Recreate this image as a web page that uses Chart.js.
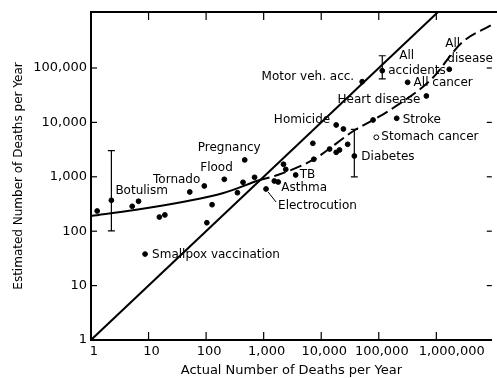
<!DOCTYPE html>
<html>
<head>
<meta charset="utf-8">
<script src="https://cdn.jsdelivr.net/npm/chart.js@4.4.0/dist/chart.umd.min.js"></script>
<style>
    html, body { margin: 0; padding: 0; background: #fff; overflow: hidden; }
    canvas { display: block; }
</style>
</head>
<body>
<canvas id="riskChart" width="497" height="378"></canvas>
<script>
// Actual vs. estimated deaths per year
const causeNames = [
    '', 'Botulism', '', '', 'Smallpox vaccination', '', '', '', 'Tornado', '',
    '', 'Flood', '', '', 'Pregnancy', '', 'Electrocution', 'Asthma', '', '',
    '', 'TB', '', '', '', '', '', '', 'Homicide', '',
    'Diabetes', 'Motor veh. acc.', 'All accidents', '', 'Stomach cancer', 'Stroke', 'All cancer', 'Heart disease', 'All disease'
];
const actualDeaths = [
    1.28, 2.26, 5.2, 6.7, 8.7, 15.4, 19.2, 52, 93, 103,
    127, 207, 350, 438, 469, 695, 1100, 1530, 1790, 2210,
    2420, 3600, 7150, 7430, 14000, 18200, 20800, 28800, 18200, 24300,
    37600, 51500, 115000, 79600, 90600, 205000, 317000, 671000, 1680000
];
const estimatedDeaths = [
    235, 370, 287, 355, 38, 182, 199, 526, 678, 143,
    307, 900, 510, 793, 2040, 980, 597, 837, 802, 1700,
    1370, 1080, 4130, 2100, 3240, 2820, 3110, 3960, 8960, 7560,
    2410, 56000, 89200, 11070, 5320, 11900, 54600, 30600, 94700
];

// Error bars (low / high estimate)
const errorCauses = ['Botulism', 'Diabetes', 'All accidents'];
const errorLow = [101, 1000, 63000];
const errorHigh = [3020, 7440, 168000];

// Fitted curve (solid part first, then dashed)
const curveX = [1, 5.7, 41, 200, 794, 1750, 7400, 38500, 79000, 175000, 830000, 2770000, 9100000];
const curveY = [190, 246, 349, 503, 855, 1080, 2090, 7240, 11000, 18200, 63000, 293000, 620000];
const curveSolidEnd = 4;

// Perfect-agreement line (estimate = actual)
const diagonalX = [1, 1070000];
const diagonalY = [1, 1070000];

// Axis ticks
const xTickValues = [1, 10, 100, 1000, 10000, 100000, 1000000];
const yTickValues = [1, 10, 100, 1000, 10000, 100000];

// Where each label sits relative to its dot (pixels)
const labelLayout = [
    { cause: 'Botulism', text: 'Botulism', dx: 4, dy: -9, align: 'left' },
    { cause: 'Smallpox vaccination', text: 'Smallpox vaccination', dx: 7, dy: 1, align: 'left' },
    { cause: 'Tornado', text: 'Tornado', dx: -4, dy: -6, align: 'right' },
    { cause: 'Flood', text: 'Flood', dx: -24, dy: -11, align: 'left' },
    { cause: 'Pregnancy', text: 'Pregnancy', dx: -47, dy: -12, align: 'left' },
    { cause: 'Electrocution', text: 'Electrocution', dx: 12, dy: 17, align: 'left', leader: [2, 3, 10, 13] },
    { cause: 'Asthma', text: 'Asthma', dx: 7, dy: 7, align: 'left' },
    { cause: 'TB', text: 'TB', dx: 4, dy: 0, align: 'left' },
    { cause: 'Homicide', text: 'Homicide', dx: -6, dy: -5, align: 'right' },
    { cause: 'Motor veh. acc.', text: 'Motor veh. acc.', dx: -8, dy: -5, align: 'right' },
    { cause: 'All accidents', text: 'All', dx: 17, dy: -15, align: 'left' },
    { cause: 'All accidents', text: 'accidents', dx: 6, dy: 0, align: 'left' },
    { cause: 'All disease', text: 'All', dx: -4, dy: -25, align: 'left' },
    { cause: 'All disease', text: 'disease', dx: -2, dy: -10, align: 'left' },
    { cause: 'All cancer', text: 'All cancer', dx: 6, dy: 1, align: 'left' },
    { cause: 'Heart disease', text: 'Heart disease', dx: -6, dy: 4, align: 'right' },
    { cause: 'Stroke', text: 'Stroke', dx: 6, dy: 2, align: 'left' },
    { cause: 'Stomach cancer', text: 'Stomach cancer', dx: 5, dy: 0, align: 'left' },
    { cause: 'Diabetes', text: 'Diabetes', dx: 7, dy: 1, align: 'left' }
];

function toPoints(xs, ys) {
    return xs.map((x, i) => ({ x: x, y: ys[i] }));
}

function formatTick(value) {
    const label = Number(value).toLocaleString('en-US');
    // last label sits right of its tick in the original
    return value === 1000000 ? '\u2007\u2007\u2007' + label : label;
}

// Frame ticks, top border and point labels
const frameAndLabels = {
    id: 'frameAndLabels',
    afterDatasetsDraw(chart) {
        const ctx = chart.ctx;
        const area = chart.chartArea;
        const xs = chart.scales.x;
        const ys = chart.scales.y;

        const line = (x1, y1, x2, y2) => {
            ctx.beginPath();
            ctx.moveTo(x1, y1);
            ctx.lineTo(x2, y2);
            ctx.stroke();
        };

        ctx.save();
        ctx.strokeStyle = '#000';
        ctx.lineWidth = 2;
        line(area.left - 1, area.top, chart.width, area.top);

        ctx.lineWidth = 1.2;
        xTickValues.slice(1).forEach(v => {
            const px = xs.getPixelForValue(v);
            line(px, area.bottom, px, area.bottom - 8);
            line(px, area.top, px, area.top + 8);
        });
        yTickValues.slice(1).forEach(v => {
            const py = ys.getPixelForValue(v);
            line(area.left, py, area.left + 6, py);
            line(area.right, py, area.right - 5, py);
        });

        ctx.fillStyle = '#000';
        ctx.font = '12px "DejaVu Sans", sans-serif';
        ctx.textBaseline = 'middle';
        labelLayout.forEach(lbl => {
            const i = causeNames.indexOf(lbl.cause);
            const px = xs.getPixelForValue(actualDeaths[i]);
            const py = ys.getPixelForValue(estimatedDeaths[i]);
            ctx.textAlign = lbl.align;
            ctx.fillText(lbl.text, px + lbl.dx, py + lbl.dy);
            if (lbl.leader) {
                ctx.lineWidth = 1;
                line(px + lbl.leader[0], py + lbl.leader[1], px + lbl.leader[2], py + lbl.leader[3]);
            }
        });
        ctx.restore();
    }
};

Chart.defaults.font.family = '"DejaVu Sans", sans-serif';
Chart.defaults.color = '#000';

const errorBarSets = errorCauses.map((cause, k) => {
    const xv = actualDeaths[causeNames.indexOf(cause)];
    return {
        data: [{ x: xv, y: errorLow[k] }, { x: xv, y: errorHigh[k] }],
        showLine: true,
        borderColor: '#000',
        borderWidth: 1.2,
        pointStyle: 'line',
        pointRadius: 3.5,
        pointBorderWidth: 1.2,
        pointBorderColor: '#000'
    };
});

new Chart(document.getElementById('riskChart'), {
    type: 'scatter',
    data: {
        datasets: [
            {
                data: toPoints(actualDeaths, estimatedDeaths),
                pointRadius: 2.4,
                pointBorderWidth: 1,
                pointBorderColor: '#000',
                pointBackgroundColor: ctx => causeNames[ctx.dataIndex] === 'Stomach cancer' ? '#fff' : '#000'
            },
            ...errorBarSets,
            {
                data: toPoints(curveX.slice(0, curveSolidEnd + 1), curveY.slice(0, curveSolidEnd + 1)),
                showLine: true,
                borderColor: '#000',
                borderWidth: 2,
                pointRadius: 0,
                cubicInterpolationMode: 'monotone'
            },
            {
                data: toPoints(curveX.slice(curveSolidEnd), curveY.slice(curveSolidEnd)),
                showLine: true,
                borderColor: '#000',
                borderWidth: 2,
                borderDash: [12, 5],
                pointRadius: 0,
                cubicInterpolationMode: 'monotone'
            },
            {
                data: toPoints(diagonalX, diagonalY),
                showLine: true,
                borderColor: '#000',
                borderWidth: 2,
                pointRadius: 0
            }
        ]
    },
    options: {
        responsive: false,
        animation: false,
        devicePixelRatio: 1,
        layout: { padding: { top: 12, right: 0, bottom: 0, left: 0 } },
        plugins: {
            legend: { display: false },
            tooltip: { enabled: false }
        },
        scales: {
            x: {
                type: 'logarithmic',
                position: 'bottom',
                min: 1,
                max: 9200000,
                grid: { drawOnChartArea: false, drawTicks: false },
                border: { display: true, color: '#000', width: 2 },
                afterBuildTicks: scale => { scale.ticks = xTickValues.map(v => ({ value: v })); },
                afterFit: scale => { scale.height = 38; },
                ticks: {
                    autoSkip: false,
                    maxRotation: 0,
                    padding: 4,
                    labelOffset: 3,
                    font: { size: 13 },
                    color: '#000',
                    callback: formatTick
                },
                title: {
                    display: true,
                    text: 'Actual Number of Deaths per Year',
                    font: { size: 13 },
                    color: '#000',
                    padding: { top: 0, bottom: 0 }
                }
            },
            y: {
                type: 'logarithmic',
                position: 'left',
                min: 1,
                max: 1070000,
                grid: { drawOnChartArea: false, drawTicks: false },
                border: { display: true, color: '#000', width: 2 },
                afterBuildTicks: scale => { scale.ticks = yTickValues.map(v => ({ value: v })); },
                afterFit: scale => { scale.width = 91; },
                ticks: {
                    autoSkip: false,
                    padding: 4,
                    font: { size: 13 },
                    color: '#000',
                    callback: formatTick
                },
                title: {
                    display: true,
                    text: 'Estimated Number of Deaths per Year',
                    font: { size: 12 },
                    color: '#000',
                    padding: { top: 12, bottom: 0 }
                }
            }
        }
    },
    plugins: [frameAndLabels]
});
</script>
</body>
</html>
